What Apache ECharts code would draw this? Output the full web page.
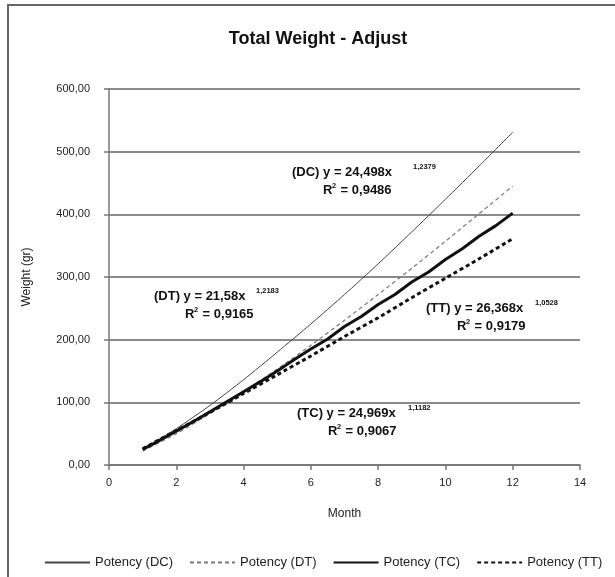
<!DOCTYPE html>
<html>
<head>
<meta charset="utf-8">
<script src="https://cdn.jsdelivr.net/npm/echarts@6/dist/echarts.min.js"></script>
<style>
html,body{margin:0;padding:0;background:#fff;}
#chart{width:615px;height:577px;}
</style>
</head>
<body>
<div id="chart"></div>
<script>
// Months (x)
const monthsHalf = [1,1.5,2,2.5,3,3.5,4,4.5,5,5.5,6,6.5,7,7.5,8,8.5,9,9.5,10,10.5,11,11.5,12];
const months = [1,2,3,4,5,6,7,8,9,10,11,12];
// Potency (DC)
const dcValues = [25,58,95,136,180,225,272,321,372,424,477,531];
// Potency (DT)
const dtValues = [22,50,82,117,153,191,231,272,314,357,401,445];
// Potency (TC) – slightly wavy thick line
const tcValues = [25,39,54,69,85,101,117,133,150,168,185,201,221,237,256,272,292,308,328,345,365,382,402];
// Potency (TT)
const ttValues = [26,55,84,114,144,174,205,235,267,298,329,361];
const seriesNames = ['Potency (DC)','Potency (DT)','Potency (TC)','Potency (TT)'];

const pairs = (xs, ys) => xs.map((x,i)=>[x, ys[i]]);

const chart = echarts.init(document.getElementById('chart'));
const FONT = 'Liberation Sans, Arial, sans-serif';
const MAIN = 'bold 13px ' + FONT;
const SUP = 'bold 7.5px ' + FONT;

function eqLabel(x, y, main, exp, expX, r2) {
  return [
    {type:'text',x:x,y:y,style:{text:main,font:MAIN,fill:'#111'}},
    {type:'text',x:expX,y:y-3,style:{text:exp,font:SUP,fill:'#111'}},
    {type:'text',x:x+31,y:y+18,style:{text:'R',font:MAIN,fill:'#111'}},
    {type:'text',x:x+40,y:y+16,style:{text:'2',font:SUP,fill:'#111'}},
    {type:'text',x:x+45,y:y+18,style:{text:' = ' + r2,font:MAIN,fill:'#111'}}
  ];
}

chart.setOption({
  animation:false,
  backgroundColor:'#fff',
  textStyle:{fontFamily:FONT},
  title:{
    text:'Total Weight - Adjust',
    left:313, top:25, textAlign:'center',
    textStyle:{fontFamily:FONT,fontSize:18,fontWeight:'bold',color:'#111'}
  },
  grid:{left:109,right:35,top:89,bottom:112,containLabel:false},
  xAxis:{
    type:'value',min:0,max:14,interval:2,
    name:'Month',nameLocation:'middle',nameGap:43,
    nameTextStyle:{fontFamily:FONT,fontSize:12,color:'#222'},
    axisLine:{show:true,onZero:false,lineStyle:{color:'#777',width:1.5}},
    axisTick:{show:true,inside:false,length:5,lineStyle:{color:'#777',width:1.5}},
    axisLabel:{fontFamily:FONT,fontSize:11,color:'#222',margin:12},
    splitLine:{show:false}
  },
  yAxis:{
    type:'value',min:0,max:600,interval:100,
    name:'Weight (gr)',nameLocation:'middle',nameGap:76,
    nameTextStyle:{fontFamily:FONT,fontSize:12,color:'#222'},
    axisLine:{show:true,lineStyle:{color:'#777',width:1.5}},
    axisTick:{show:true,length:5,lineStyle:{color:'#777',width:1.5}},
    axisLabel:{fontFamily:FONT,fontSize:11,color:'#222',margin:19,
      formatter:v=>v.toFixed(2).replace('.',',')},
    splitLine:{show:true,lineStyle:{color:'#8a8a8a',width:2}}
  },
  legend:{
    left:39, top:551, itemWidth:45, itemHeight:10, itemGap:16,
    itemStyle:{opacity:0},
    textStyle:{fontFamily:FONT,fontSize:13,color:'#222'},
    data:seriesNames
  },
  series:[
    {name:seriesNames[0],type:'line',symbol:'none',data:pairs(months,dcValues),smooth:0.2,
     lineStyle:{color:'#444',width:1,type:'solid'},itemStyle:{color:'#444'}},
    {name:seriesNames[1],type:'line',symbol:'none',data:pairs(months,dtValues),smooth:0.2,
     lineStyle:{color:'#777',width:1.2,type:[4,3]},itemStyle:{color:'#777'}},
    {name:seriesNames[2],type:'line',symbol:'none',data:pairs(monthsHalf,tcValues),
     lineStyle:{color:'#111',width:3,type:'solid'},itemStyle:{color:'#111'}},
    {name:seriesNames[3],type:'line',symbol:'none',data:pairs(months,ttValues),smooth:0.2,
     lineStyle:{color:'#111',width:3,type:[4,3]},itemStyle:{color:'#111'}}
  ],
  graphic:[
    {type:'rect',shape:{x:8,y:5,width:700,height:700},style:{fill:'none',stroke:'#666',lineWidth:2},silent:true,z:-1}
  ].concat(
    eqLabel(292,166,'(DC) y = 24,498x','1,2379',413,'0,9486'),
    eqLabel(154,290,'(DT) y = 21,58x','1,2183',256,'0,9165'),
    eqLabel(426,302,'(TT) y = 26,368x','1,0528',535,'0,9179'),
    eqLabel(297,407,'(TC) y = 24,969x','1,1182',408,'0,9067')
  )
});
</script>
</body>
</html>
